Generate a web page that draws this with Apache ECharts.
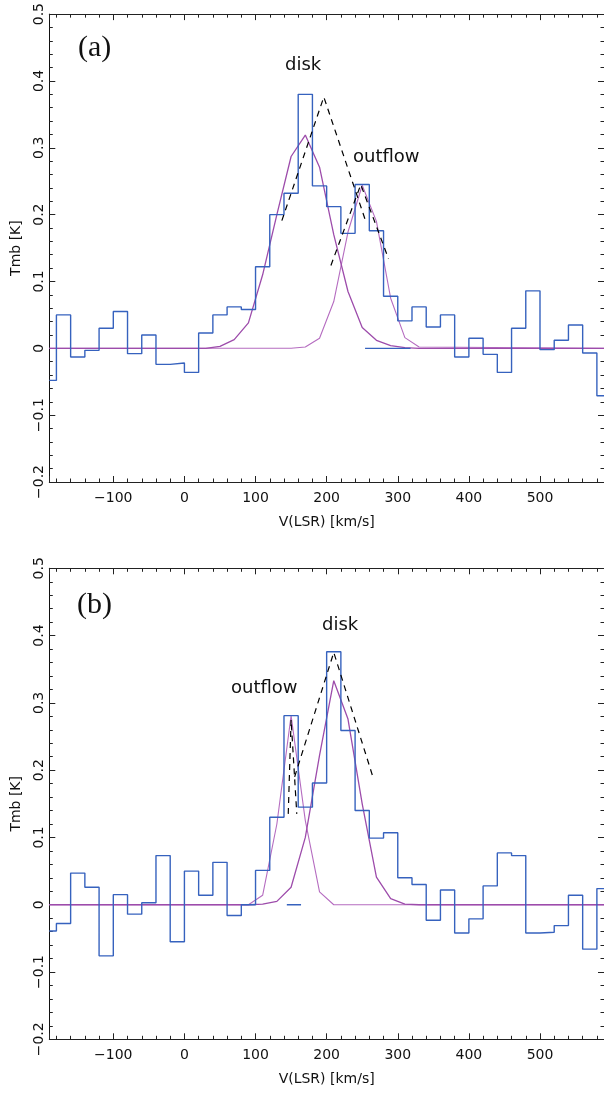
<!DOCTYPE html>
<html>
<head>
<meta charset="utf-8">
<script src="https://cdn.jsdelivr.net/npm/echarts@6/dist/echarts.min.js"></script>
<style>
    html, body { margin: 0; padding: 0; background: #fff; }
    #chart { width: 604px; height: 1094px; }
</style>
</head>
<body>
<div id="chart"></div>
<script>
// channel left edges (km/s), 20 km/s bins, first bin cut by the axis
var edges = [-190, -180, -160, -140, -120, -100, -80, -60, -40, -20,
    0, 20, 40, 60, 80, 100, 120, 140, 160, 180,
    200, 220, 240, 260, 280, 300, 320, 340, 360, 380,
    400, 420, 440, 460, 480, 500, 520, 540, 560, 580];
var vEnd = 590;

// observed spectra, Tmb [K]
var tmbA = [-0.048, 0.050, -0.013, -0.003, 0.030, 0.055, -0.008, 0.020, -0.024, -0.022,
    -0.036, 0.023, 0.050, 0.062, 0.058, 0.122, 0.200, 0.232, 0.380, 0.243,
    0.212, 0.172, 0.245, 0.176, 0.078, 0.041, 0.062, 0.032, 0.050, -0.013,
    0.015, -0.009, -0.036, 0.030, 0.086, -0.002, 0.012, 0.035, -0.007, -0.071];
var tmbB = [-0.039, -0.028, 0.047, 0.026, -0.076, 0.015, -0.014, 0.003, 0.073, -0.055,
    0.050, 0.014, 0.063, -0.016, 0.000, 0.051, 0.130, 0.281, 0.145, 0.181,
    0.376, 0.259, 0.140, 0.099, 0.107, 0.040, 0.030, -0.023, 0.022, -0.042,
    -0.021, 0.028, 0.077, 0.073, -0.042, -0.041, -0.031, 0.014, -0.066, 0.024];

// gaussian fit components, sampled at channel centres
var fitV = [-190, 30, 50, 70, 90, 110, 130, 150, 170, 190, 210, 230, 250, 270, 290, 310, 330, 590];
var diskA = [0, 0, 0.003, 0.013, 0.038, 0.110, 0.200, 0.287, 0.319, 0.271, 0.170, 0.085, 0.031, 0.012, 0.004, 0.001, 0, 0];
var outA  = [0, 0, 0, 0, 0, 0, 0, 0, 0.002, 0.015, 0.070, 0.174, 0.244, 0.190, 0.075, 0.016, 0.002, 0];
var diskB = [0, 0, 0, 0, 0, 0.001, 0.005, 0.026, 0.100, 0.222, 0.333, 0.276, 0.150, 0.041, 0.009, 0.001, 0, 0];
var outB  = [0, 0, 0, 0, 0, 0.014, 0.120, 0.281, 0.125, 0.019, 0, 0, 0, 0, 0, 0, 0, 0];

// dashed triangles [v, Tmb]
var triDiskA = [[137, 0.191], [196, 0.376], [255, 0.190]];
var triOutA  = [[206, 0.124], [248, 0.245], [287, 0.134]];
var triDiskB = [[155, 0.190], [210, 0.375], [265, 0.190]];
var triOutB  = [[146, 0.135], [150, 0.275], [158, 0.135]];

// short blue zero segments
var zeroA = [[254, 0], [318, 0]];
var zeroB = [[144, 0], [164, 0]];

var xMin = -190, xMax = 590, yMin = -0.2, yMax = 0.5;

var BLUE = '#3662be';
var PURPLE = '#9d4cab';
var PURPLE2 = '#b56cc0';

function minus(v){
    return String(v).replace('-', '\u2212');
}

function steps(vals){
    var d = edges.map(function(e, i){ return [e, vals[i]]; });
    d.push([vEnd, vals[vals.length - 1]]);
    return d;
}

function pairs(xs, ys){
    return xs.map(function(x, i){ return [x, ys[i]]; });
}

function xAxes(grid){
    var tick = { show: true, inside: true, length: 6, lineStyle: { color: '#222', width: 1 } };
    var minor = { show: true, splitNumber: 5, length: 3.5, lineStyle: { color: '#222', width: 1 } };
    var line = { show: true, onZero: false, lineStyle: { color: '#222', width: 1 } };
    return [{
        type: 'value', gridIndex: grid, position: 'bottom', min: xMin, max: xMax, splitNumber: 8,
        name: 'V(LSR) [km/s]', nameLocation: 'middle', nameGap: 33,
        nameTextStyle: { fontFamily: 'DejaVu Sans', fontSize: 14, color: '#111' },
        axisLine: line, axisTick: tick, minorTick: minor, splitLine: { show: false },
        axisLabel: { fontFamily: 'DejaVu Sans', fontSize: 14, color: '#111', margin: 9,
            showMinLabel: false, showMaxLabel: false, formatter: minus }
    }, {
        type: 'value', gridIndex: grid, position: 'top', min: xMin, max: xMax, splitNumber: 8,
        axisLine: line, axisTick: tick, minorTick: minor, splitLine: { show: false },
        axisLabel: { show: false }
    }];
}

function yAxes(grid){
    var tick = { show: true, inside: true, length: 6, lineStyle: { color: '#222', width: 1 } };
    var minor = { show: true, splitNumber: 5, length: 3.5, lineStyle: { color: '#222', width: 1 } };
    var line = { show: true, onZero: false, lineStyle: { color: '#111', width: 1 } };
    return [{
        type: 'value', gridIndex: grid, position: 'left', min: yMin, max: yMax, interval: 0.1,
        name: 'Tmb [K]', nameLocation: 'middle', nameGap: 26, nameRotate: 90,
        nameTextStyle: { fontFamily: 'DejaVu Sans', fontSize: 14, color: '#111' },
        axisLine: line, axisTick: tick, minorTick: minor, splitLine: { show: false },
        axisLabel: { fontFamily: 'DejaVu Sans', fontSize: 14, color: '#111', margin: 3, rotate: 90,
            formatter: minus }
    }, {
        type: 'value', gridIndex: grid, position: 'right', min: yMin, max: yMax, interval: 0.1,
        axisLine: line, axisTick: tick, minorTick: minor, splitLine: { show: false },
        axisLabel: { show: false }
    }];
}

function panelSeries(ax, tmb, disk, out, triDisk, triOut, zero){
    var base = { type: 'line', xAxisIndex: ax, yAxisIndex: ax, symbol: 'none', silent: true, animation: false };
    return [
        Object.assign({}, base, { data: pairs(fitV, out), lineStyle: { color: PURPLE2, width: 1.1 } }),
        Object.assign({}, base, { data: pairs(fitV, disk), lineStyle: { color: PURPLE, width: 1.3 } }),
        Object.assign({}, base, { data: steps(tmb), step: 'end', lineStyle: { color: BLUE, width: 1.4 } }),
        Object.assign({}, base, { data: zero, lineStyle: { color: BLUE, width: 1.3 } }),
        Object.assign({}, base, { data: triDisk, lineStyle: { color: '#000', width: 1.2, type: [6, 5] } }),
        Object.assign({}, base, { data: triOut, lineStyle: { color: '#000', width: 1.2, type: [6, 5] } })
    ];
}

function label(text, x, y, size, family){
    return { type: 'text', left: x, top: y, style: { text: text, fill: '#111',
        font: size + 'px ' + family } };
}

var chart = echarts.init(document.getElementById('chart'));
chart.setOption({
    animation: false,
    grid: [
        { left: 49.3, top: 10, width: 556, height: 472 },
        { left: 49.3, top: 568.3, width: 556, height: 471 }
    ],
    xAxis: xAxes(0).concat(xAxes(1)),
    yAxis: yAxes(0).concat(yAxes(1)),
    series: panelSeries(0, tmbA, diskA, outA, triDiskA, triOutA, zeroA)
        .concat(panelSeries(2, tmbB, diskB, outB, triDiskB, triOutB, zeroB)),
    graphic: [
        label('(a)', 78, 33, 30, '"Liberation Serif"'),
        label('disk', 285, 56, 18, '"DejaVu Sans"'),
        label('outflow', 353, 148, 18, '"DejaVu Sans"'),
        label('(b)', 77, 590, 30, '"Liberation Serif"'),
        label('outflow', 231, 679, 18, '"DejaVu Sans"'),
        label('disk', 322, 616, 18, '"DejaVu Sans"')
    ]
});
</script>
</body>
</html>
